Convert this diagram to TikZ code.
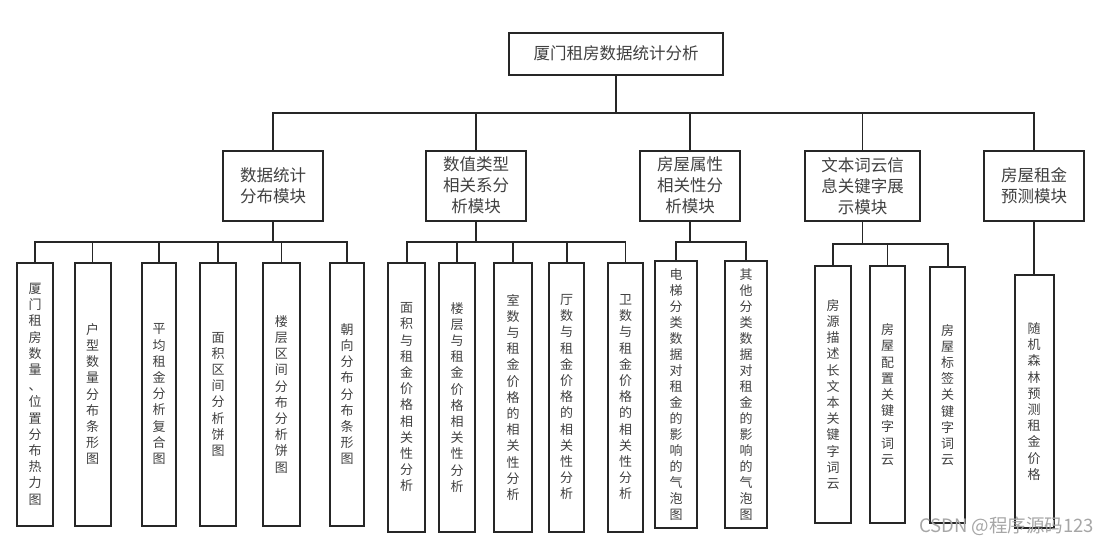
\documentclass[tikz,border=0pt]{standalone}
\usepackage{fontspec}
\setmainfont{Noto Sans CJK SC}
\usepackage{xcolor}
\usepackage{tikz}

\begin{document}
\begin{tikzpicture}[
        x=1pt, y=-1pt,
        line width=1.6pt, color=black!85,
        box/.style={draw, rectangle, line width=2pt, inner sep=0pt, minimum width=100pt, minimum height=70pt, align=center, text=black!75, font=\fontsize{16.5}{21}\selectfont},
        leaf/.style={draw, rectangle, line width=2pt, inner sep=0pt, minimum width=36pt, minimum height=263pt, align=center, text=black!75, font=\fontsize{13}{16.2}\selectfont}
    ]
    \useasboundingbox (0,0) rectangle (1112,546);
    % 节点
    \node[box, minimum width=214pt, minimum height=42pt] (root) at (616,53.5) {厦门租房数据统计分析};
    \node[box] (tongji) at (273,185.7)  {数据统计\\分布模块};
    \node[box] (shuzhi) at (476,185.7)  {数值类型\\相关系分\\析模块};
    \node[box] (shuxing) at (690,185.7) {房屋属性\\相关性分\\析模块};
    \node[box, minimum width=115pt] (ciyun) at (862.5,185.7) {文本词云信\\息关键字展\\示模块};
    \node[box] (yuce) at (1034,185.7)   {房屋租金\\预测模块};

    \node[leaf] (tj1) at (35,394.2)    {厦\\门\\租\\房\\数\\量\\、\\位\\置\\分\\布\\热\\力\\图};
    \node[leaf] (tj2) at (92.5,394.2)  {户\\型\\数\\量\\分\\布\\条\\形\\图};
    \node[leaf, minimum width=34pt] (tj3) at (159,394.2) {平\\均\\租\\金\\分\\析\\复\\合\\图};
    \node[leaf, minimum width=36.5pt] (tj4) at (218,394.2) {面\\积\\区\\间\\分\\析\\饼\\图};
    \node[leaf, minimum width=37pt] (tj5) at (281.3,394.2) {楼\\层\\区\\间\\分\\布\\分\\析\\饼\\图};
    \node[leaf, minimum width=34pt] (tj6) at (347,394.2) {朝\\向\\分\\布\\分\\布\\条\\形\\图};

    \node[leaf, minimum width=36.7pt, minimum height=269pt] (sz1) at (406.7,397.2) {面\\积\\与\\租\\金\\价\\格\\相\\关\\性\\分\\析};
    \node[leaf, minimum height=269pt] (sz2) at (457,397.2) {楼\\层\\与\\租\\金\\价\\格\\相\\关\\性\\分\\析};
    \node[leaf, minimum width=37.7pt, minimum height=269pt] (sz3) at (513,397.2) {室\\数\\与\\租\\金\\价\\格\\的\\相\\关\\性\\分\\析};
    \node[leaf, minimum width=35.3pt, minimum height=269pt] (sz4) at (566.7,397.2) {厅\\数\\与\\租\\金\\价\\格\\的\\相\\关\\性\\分\\析};
    \node[leaf, minimum width=35.7pt, minimum height=269pt] (sz5) at (625.5,397.2) {卫\\数\\与\\租\\金\\价\\格\\的\\相\\关\\性\\分\\析};

    \node[leaf, minimum width=41.7pt, minimum height=267pt, font=\fontsize{13}{16}\selectfont] (sx1) at (676,394.7) {电\\梯\\分\\类\\数\\据\\对\\租\\金\\的\\影\\响\\的\\气\\泡\\图};
    \node[leaf, minimum width=42.3pt, minimum height=267pt, font=\fontsize{13}{16}\selectfont] (sx2) at (746,394.7) {其\\他\\分\\类\\数\\据\\对\\租\\金\\的\\影\\响\\的\\气\\泡\\图};

    \node[leaf, minimum height=257.6pt] (cy1) at (833,394.5) {房\\源\\描\\述\\长\\文\\本\\关\\键\\字\\词\\云};
    \node[leaf, minimum width=35pt, minimum height=257.6pt] (cy2) at (887.5,394.5) {房\\屋\\配\\置\\关\\键\\字\\词\\云};
    \node[leaf, minimum width=35.3pt, minimum height=256.6pt] (cy3) at (947.7,395) {房\\屋\\标\\签\\关\\键\\字\\词\\云};

    \node[leaf, minimum width=39pt, minimum height=253pt] (yc1) at (1034,401.5) {随\\机\\森\\林\\预\\测\\租\\金\\价\\格};

    % 连线
    \coordinate (bus) at (616,112.7);
    \draw (root.south) -- (bus);
    \draw (bus) -| (tongji.north) (bus) -| (shuzhi.north) (bus) -| (shuxing.north)
          (bus) -| (ciyun.north) (bus) -| (yuce.north);

    \coordinate (bus-tj) at (273,241.7);
    \draw (tongji.south) -- (bus-tj);
    \draw (bus-tj) -| (tj1.north) (bus-tj) -| (tj2.north) (bus-tj) -| (tj3.north)
          (bus-tj) -| (tj4.north) (bus-tj) -| (tj5.north) (bus-tj) -| (tj6.north);

    \coordinate (bus-sz) at (476,241.7);
    \draw (shuzhi.south) -- (bus-sz);
    \draw (bus-sz) -| (sz1.north) (bus-sz) -| (sz2.north) (bus-sz) -| (sz3.north)
          (bus-sz) -| (sz4.north) (bus-sz) -| (sz5.north);

    \coordinate (bus-sx) at (690,241.7);
    \draw (shuxing.south) -- (bus-sx);
    \draw (bus-sx) -| (sx1.north) (bus-sx) -| (sx2.north);

    \coordinate (bus-cy) at (862.5,244);
    \draw (ciyun.south) -- (bus-cy);
    \draw (bus-cy) -| (cy1.north) (bus-cy) -| (cy2.north) (bus-cy) -| (cy3.north);

    \draw (yuce.south) -- (yc1.north);

    % 水印
    \node[anchor=east, inner sep=0pt, text=black!35, font=\fontsize{18.5}{18.5}\selectfont] (csdn) at (1095,526) {CSDN @程序源码123};
\end{tikzpicture}
\end{document}
